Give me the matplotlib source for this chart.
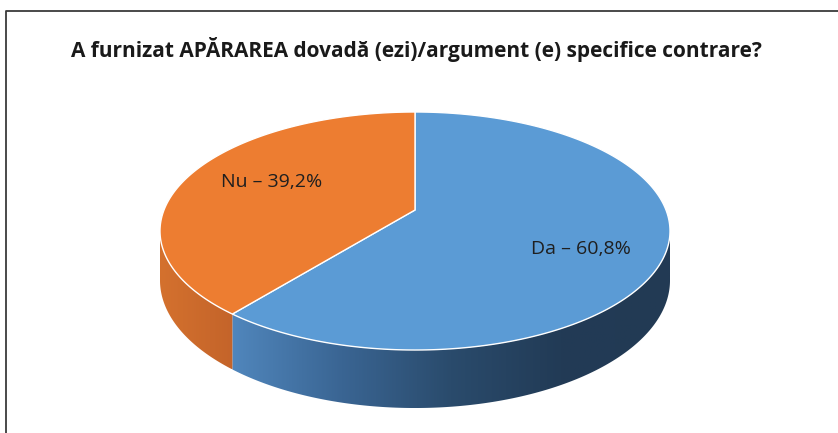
import numpy as np
import matplotlib
matplotlib.use("Agg")
import matplotlib.pyplot as plt
from matplotlib.patches import Polygon
from matplotlib.colors import LinearSegmentedColormap

title = "A furnizat APĂRAREA dovadă (ezi)/argument (e) specifice contrare?"
labels = ["Da", "Nu"]
values = [60.8, 39.2]
top_colors = ["#5B9BD5", "#ED7D31"]
side_colors = [["#5086BC", "#3A6593", "#2A4B6C", "#223B56", "#223A54"],
               ["#D4712E", "#C4642A"]]

plt.rcParams['font.family'] = ['Open Sans', 'DejaVu Sans']

fig = plt.figure(figsize=(8.38, 4.33), dpi=100)
ax = fig.add_axes([0, 0, 1, 1])
ax.set_xlim(0, 838)
ax.set_ylim(433, 0)
ax.axis('off')

# frame (only top and left are inside the picture)
ax.plot([6, 6, 838], [433, 10.5, 10.5], color='#3a3a3a', lw=1.3, solid_capstyle='butt')

ax.text(416.5, 50, title, ha='center', va='center', fontsize=15, fontweight='bold',
        color='#1a1a1a')

# pie geometry with a bit of perspective
cx, cy, A, B, k, depth = 415, 210, 251, 115.3, 0.1765, 58


def pt(t):
    u, v = np.cos(t), np.sin(t)
    s = 1 + k * v
    return cx + A * u / s, cy - B * v / s


def dep(t):
    return depth * (1 - k) / (1 + k * np.sin(t))


# slice angles, clockwise from 12 o'clock
fracs = np.array(values) / sum(values)
starts = [np.pi / 2]
for f in fracs[:-1]:
    starts.append(starts[-1] - 2 * np.pi * f)
spans = [(s - 2 * np.pi * f, s) for s, f in zip(starts, fracs)]

# visible front part of the wall
vis_lo, vis_hi = -np.pi + np.arcsin(k), -np.arcsin(k)

for (t1, t2), cols in zip(spans, side_colors):
    if t1 >= 0:
        t1, t2 = t1 - 2 * np.pi, t2 - 2 * np.pi
    lo, hi = max(t1, vis_lo), min(t2, vis_hi)
    if hi <= lo:
        lo, hi = max(t1 + 2 * np.pi, vis_lo), min(t2 + 2 * np.pi, vis_hi)
    if hi <= lo:
        continue
    tt = np.linspace(lo, hi, 200)
    x, y = pt(tt)
    yb = y + dep(tt)
    poly = np.vstack([np.column_stack([x, y]),
                      np.column_stack([x[::-1], yb[::-1]])])
    patch = Polygon(poly, closed=True, facecolor='none', edgecolor='none')
    ax.add_patch(patch)
    cmap = LinearSegmentedColormap.from_list('side', cols)
    grad = np.linspace(0, 1, 256).reshape(1, -1)
    im = ax.imshow(grad, cmap=cmap, aspect='auto',
                   extent=[x.min(), x.max(), yb.max(), y.min()], zorder=2)
    im.set_clip_path(patch)

ax.set_xlim(0, 838)
ax.set_ylim(433, 0)

# top faces
for (t1, t2), col in zip(spans, top_colors):
    tt = np.linspace(t1, t2, 300)
    x, y = pt(tt)
    poly = np.vstack([[cx, cy], np.column_stack([x, y])])
    ax.add_patch(Polygon(poly, closed=True, facecolor=col, edgecolor='white',
                         lw=1.0, zorder=3))

ax.text(581, 249, f"{labels[0]} – {values[0]:.1f}%".replace('.', ','),
        ha='center', va='center', fontsize=14, color='#1f1f1f', zorder=4)
ax.text(272, 182, f"{labels[1]} – {values[1]:.1f}%".replace('.', ','),
        ha='center', va='center', fontsize=14, color='#1f1f1f', zorder=4)

fig.savefig("out.png", dpi=100)
